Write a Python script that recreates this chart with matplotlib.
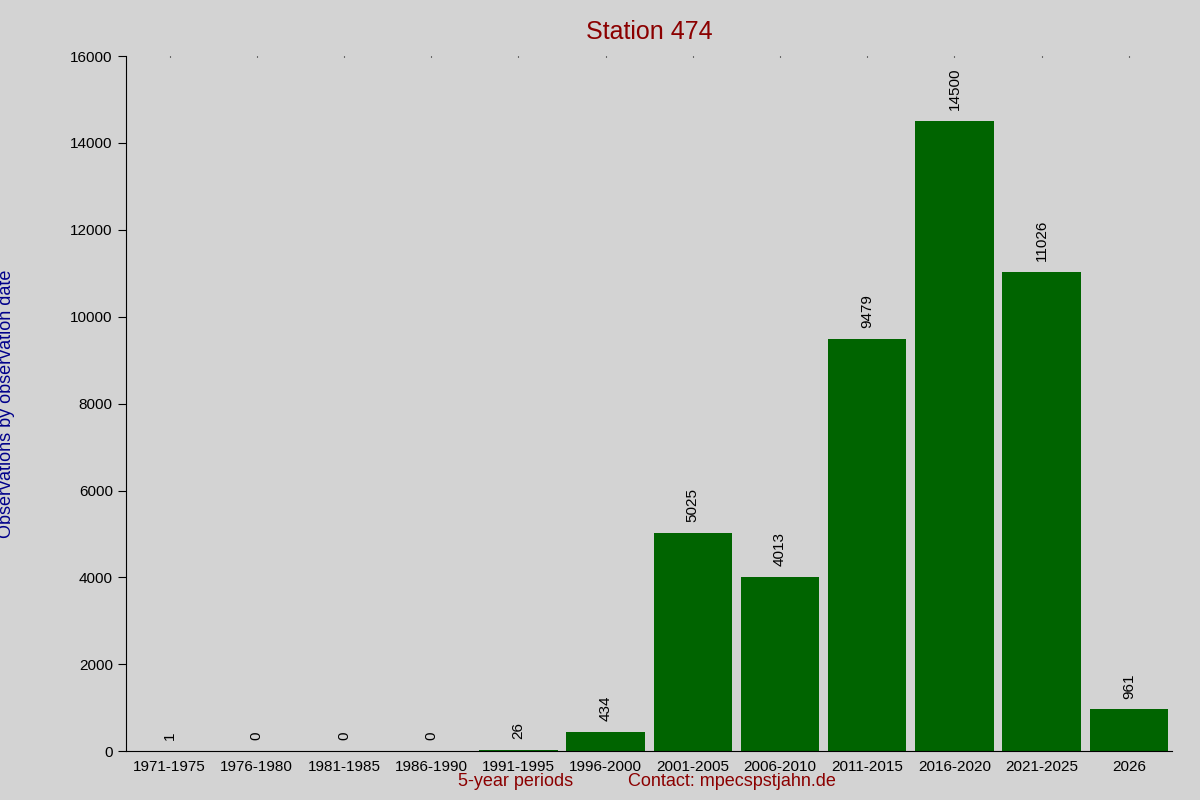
import matplotlib
matplotlib.use("Agg")
import matplotlib.pyplot as plt

periods = ["1971-1975", "1976-1980", "1981-1985", "1986-1990", "1991-1995", "1996-2000",
           "2001-2005", "2006-2010", "2011-2015", "2016-2020", "2021-2025", "2026"]
counts = [1, 0, 0, 0, 26, 434, 5025, 4013, 9479, 14500, 11026, 961]

bg = "#d3d3d3"
plt.rcParams["font.family"] = ["Liberation Sans", "DejaVu Sans"]
fig = plt.figure(figsize=(12, 8), dpi=100, facecolor=bg)
ax = fig.add_axes([0.105, 0.061, 0.872, 0.869], facecolor=bg)

x = list(range(len(periods)))
ax.bar(x, counts, width=0.9, color="#006400")
for xi, v in zip(x, counts):
    ax.text(xi, v + 250, str(v), rotation=90, ha="center", va="bottom", fontsize=11)

ax.set_xlim(-0.5, len(periods) - 0.5)
ax.set_ylim(0, 16000)
ax.set_yticks(range(0, 16001, 2000))
ax.set_xticks(x)
ax.set_xticklabels(periods)
ax.tick_params(axis="x", length=0, labelsize=11, pad=6)
ax.tick_params(axis="y", direction="out", length=6, labelsize=11)
for s in ("top", "right"):
    ax.spines[s].set_visible(False)

# small dots at the top like the original
ax2 = ax.secondary_xaxis("top")
ax2.set_xticks(x)
ax2.set_xticklabels([])
ax2.tick_params(length=1, direction="in")
ax2.spines["top"].set_visible(False)

ax.set_title("Station 474", color="#8b0000", fontsize=18, pad=12)
ax.set_ylabel("Observations by observation date", color="#00008b", fontsize=13, labelpad=40)
fig.text(0.43, 0.017, "5-year periods", color="#8b0000", fontsize=13, ha="center")
fig.text(0.61, 0.017, "Contact: mpecsͅpstjahn.de".replace("ͅ", ""), color="#8b0000", fontsize=13, ha="center")

fig.savefig("out.png", dpi=100, facecolor=bg)
